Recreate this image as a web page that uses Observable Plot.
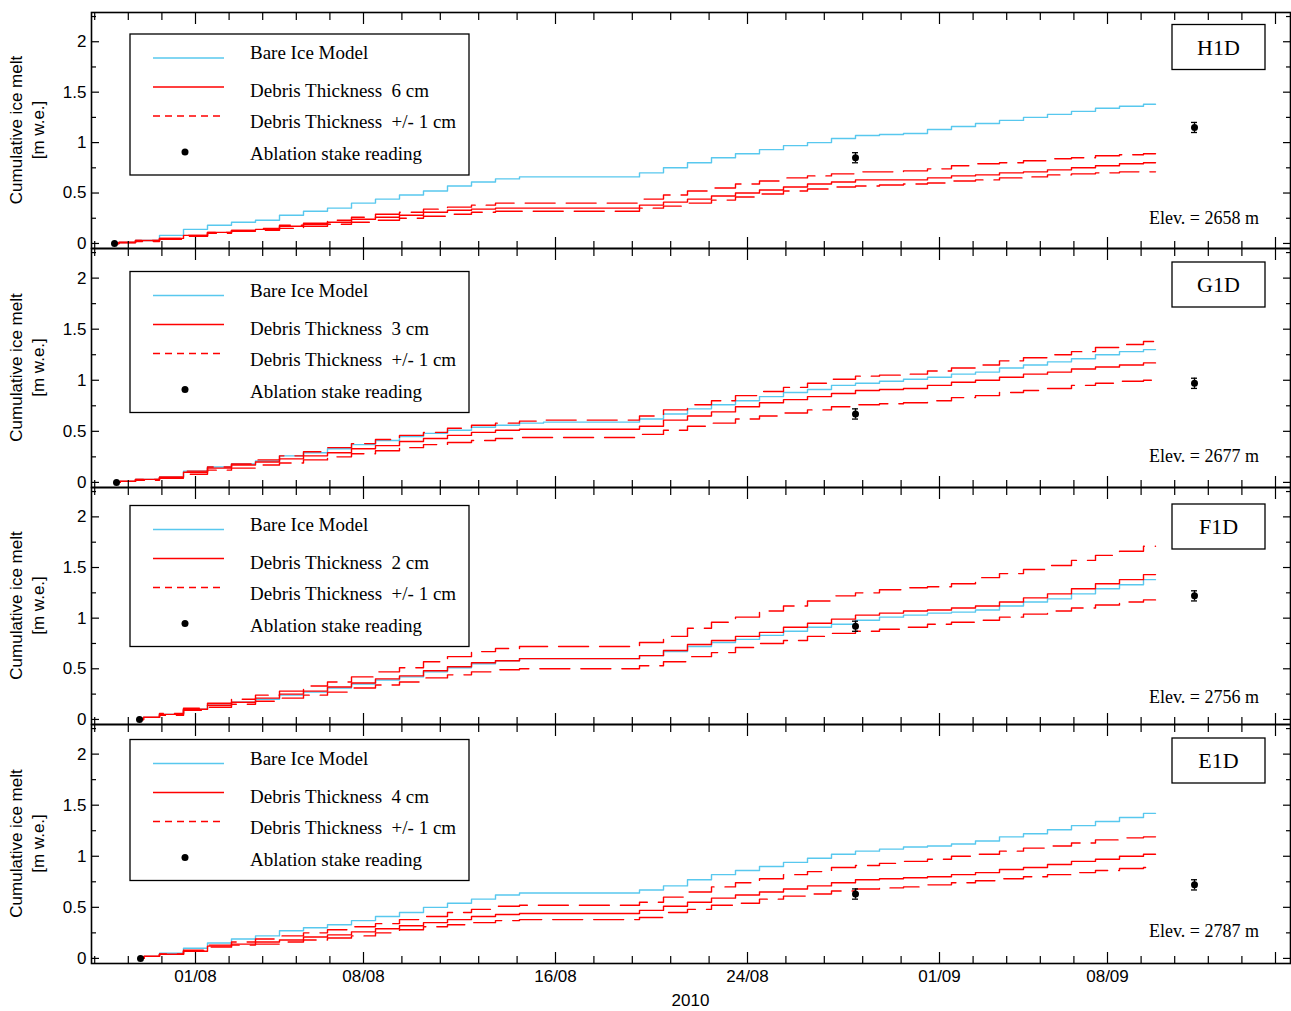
<!DOCTYPE html>
<html><head><meta charset="utf-8">
<script src="https://cdn.jsdelivr.net/npm/d3@7"></script>
<script src="https://cdn.jsdelivr.net/npm/@observablehq/plot@0.6"></script>
<style>
body{margin:0;background:#fff;}
#chart{position:relative;width:1291px;height:1011px;overflow:hidden;}
#chart svg{position:absolute;left:0;overflow:visible;}
</style></head><body><div id="chart"></div>
<script>
// ---------- DATA ----------
const days = ["2010-07-29","2010-07-30","2010-07-31",
"2010-08-01","2010-08-02","2010-08-03","2010-08-04","2010-08-05","2010-08-06","2010-08-07","2010-08-08","2010-08-09","2010-08-10",
"2010-08-11","2010-08-12","2010-08-13","2010-08-14","2010-08-15","2010-08-16","2010-08-17","2010-08-18","2010-08-19","2010-08-20",
"2010-08-21","2010-08-22","2010-08-23","2010-08-24","2010-08-25","2010-08-26","2010-08-27","2010-08-28","2010-08-29","2010-08-30","2010-08-31",
"2010-09-01","2010-09-02","2010-09-03","2010-09-04","2010-09-05","2010-09-06","2010-09-07","2010-09-08","2010-09-09","2010-09-10"];

const stations = ["H1D","G1D","F1D","E1D"];
const elevations = [2658, 2677, 2756, 2787];
const debrisCm = [6, 3, 2, 4];
const modelStart = ["2010-07-28T15:00Z","2010-07-28T17:00Z","2010-07-29T16:00Z","2010-07-29T17:00Z"];

// H1D
const bareH1D = [0.01,0.03,0.08, 0.14,0.18,0.21,0.23,0.28,0.32,0.35,0.40,0.44,0.48,0.52,0.57,0.61,0.64,0.66,0.66,0.66,0.66,0.66,0.70,0.75,0.80,0.85,0.89,0.93,0.97,1.00,1.04,1.07,1.08,1.09, 1.13,1.16,1.19,1.22,1.25,1.28,1.31,1.34,1.36,1.38];
const debH1D  = [0.01,0.03,0.05, 0.08,0.11,0.13,0.14,0.17,0.19,0.21,0.24,0.26,0.28,0.31,0.33,0.34,0.35,0.35,0.35,0.35,0.35,0.35,0.38,0.41,0.44,0.47,0.50,0.53,0.56,0.59,0.61,0.63,0.63,0.63, 0.65,0.67,0.68,0.70,0.71,0.73,0.75,0.77,0.79,0.80];
const debHiH1D= [0.01,0.03,0.05, 0.08,0.11,0.13,0.15,0.18,0.20,0.23,0.26,0.29,0.31,0.34,0.36,0.38,0.40,0.40,0.40,0.40,0.40,0.40,0.44,0.48,0.52,0.55,0.59,0.62,0.65,0.67,0.69,0.71,0.71,0.72, 0.74,0.77,0.79,0.80,0.82,0.84,0.85,0.87,0.88,0.89];
const debLoH1D= [0.01,0.02,0.04, 0.07,0.10,0.12,0.13,0.15,0.17,0.19,0.21,0.23,0.25,0.27,0.29,0.31,0.32,0.32,0.32,0.32,0.32,0.32,0.35,0.37,0.40,0.43,0.46,0.49,0.52,0.54,0.56,0.57,0.58,0.59, 0.60,0.62,0.63,0.65,0.66,0.68,0.69,0.70,0.71,0.71];
// G1D
const bareG1D = [0.01,0.03,0.05, 0.11,0.15,0.18,0.21,0.26,0.29,0.33,0.37,0.41,0.45,0.48,0.51,0.54,0.56,0.58,0.59,0.59,0.59,0.59,0.62,0.67,0.72,0.76,0.80,0.84,0.88,0.91,0.95,0.97,0.99,1.01, 1.03,1.06,1.08,1.12,1.15,1.18,1.21,1.25,1.28,1.30];
const debG1D  = [0.01,0.03,0.05, 0.10,0.14,0.17,0.20,0.23,0.26,0.29,0.33,0.36,0.40,0.43,0.46,0.49,0.51,0.52,0.52,0.52,0.52,0.52,0.55,0.61,0.65,0.69,0.74,0.78,0.81,0.84,0.87,0.90,0.91,0.92, 0.95,0.98,1.00,1.03,1.06,1.08,1.11,1.13,1.15,1.17];
const debHiG1D= [0.01,0.03,0.05, 0.11,0.15,0.18,0.22,0.26,0.30,0.34,0.38,0.42,0.46,0.49,0.53,0.56,0.58,0.60,0.61,0.61,0.61,0.61,0.65,0.71,0.76,0.80,0.85,0.89,0.93,0.97,1.01,1.04,1.05,1.06, 1.09,1.12,1.15,1.19,1.22,1.25,1.28,1.32,1.35,1.38];
const debLoG1D= [0.01,0.02,0.04, 0.08,0.12,0.14,0.17,0.19,0.22,0.25,0.28,0.31,0.34,0.37,0.39,0.41,0.43,0.44,0.44,0.44,0.44,0.44,0.47,0.51,0.55,0.58,0.62,0.65,0.68,0.71,0.74,0.76,0.77,0.78, 0.80,0.83,0.85,0.88,0.90,0.92,0.95,0.97,0.99,1.00];
// F1D
const bareF1D = [null,0.02,0.05, 0.10,0.14,0.17,0.20,0.24,0.27,0.31,0.35,0.39,0.42,0.47,0.51,0.55,0.58,0.60,0.60,0.60,0.60,0.60,0.63,0.67,0.72,0.76,0.79,0.83,0.87,0.91,0.94,0.98,1.01,1.03, 1.05,1.06,1.08,1.12,1.16,1.19,1.24,1.29,1.33,1.38];
const debF1D  = [null,0.02,0.05, 0.10,0.14,0.17,0.21,0.25,0.28,0.32,0.36,0.40,0.43,0.48,0.52,0.56,0.58,0.60,0.60,0.60,0.60,0.60,0.63,0.68,0.74,0.78,0.82,0.86,0.91,0.95,0.99,1.03,1.05,1.07, 1.08,1.10,1.12,1.16,1.20,1.24,1.29,1.34,1.38,1.43];
const debHiF1D= [null,0.02,0.06, 0.11,0.16,0.20,0.24,0.28,0.33,0.37,0.42,0.47,0.51,0.57,0.62,0.67,0.70,0.72,0.72,0.72,0.72,0.72,0.76,0.82,0.90,0.96,1.01,1.07,1.12,1.17,1.22,1.25,1.28,1.30, 1.31,1.34,1.40,1.44,1.48,1.52,1.57,1.62,1.66,1.71];
const debLoF1D= [null,0.02,0.04, 0.09,0.12,0.15,0.18,0.21,0.24,0.27,0.31,0.34,0.37,0.41,0.44,0.47,0.49,0.50,0.50,0.50,0.50,0.50,0.53,0.57,0.62,0.66,0.71,0.75,0.78,0.82,0.85,0.87,0.89,0.91, 0.94,0.96,0.98,1.01,1.04,1.07,1.10,1.13,1.16,1.18];
// E1D
const bareE1D = [null,0.02,0.05, 0.10,0.15,0.19,0.22,0.27,0.30,0.33,0.37,0.41,0.45,0.50,0.54,0.58,0.62,0.64,0.64,0.64,0.64,0.64,0.67,0.71,0.77,0.82,0.86,0.90,0.94,0.98,1.02,1.05,1.07,1.09, 1.10,1.12,1.15,1.19,1.22,1.26,1.30,1.34,1.38,1.42];
const debE1D  = [null,0.02,0.04, 0.07,0.12,0.14,0.16,0.18,0.21,0.23,0.26,0.29,0.32,0.35,0.38,0.41,0.43,0.44,0.44,0.44,0.44,0.44,0.47,0.51,0.55,0.59,0.62,0.65,0.68,0.71,0.74,0.77,0.78,0.79, 0.80,0.82,0.84,0.87,0.89,0.92,0.95,0.97,1.00,1.02];
const debHiE1D= [null,0.02,0.04, 0.08,0.13,0.16,0.19,0.22,0.25,0.28,0.31,0.34,0.38,0.41,0.45,0.48,0.51,0.52,0.52,0.52,0.52,0.52,0.55,0.60,0.65,0.70,0.74,0.78,0.82,0.85,0.89,0.91,0.93,0.95, 0.97,1.00,1.02,1.05,1.08,1.10,1.13,1.16,1.18,1.19];
const debLoE1D= [null,0.02,0.04, 0.07,0.11,0.13,0.14,0.16,0.18,0.20,0.22,0.25,0.28,0.31,0.33,0.35,0.37,0.38,0.38,0.38,0.38,0.38,0.40,0.45,0.48,0.52,0.54,0.58,0.61,0.63,0.66,0.68,0.69,0.70, 0.72,0.74,0.76,0.78,0.80,0.82,0.84,0.86,0.88,0.89];

// ablation stake readings (first reading = model start, 0)
const stakeDates = ["2010-08-28T12:00Z","2010-09-11T15:00Z"];
const stakeH1D = [0.85, 1.15], errH1D = [0.05, 0.05];
const stakeG1D = [0.67, 0.97], errG1D = [0.05, 0.05];
const stakeF1D = [0.92, 1.22], errF1D = [0.05, 0.05];
const stakeE1D = [0.63, 0.72], errE1D = [0.05, 0.05];

// axis ticks
const majorX = ["2010-08-01","2010-08-08","2010-08-16","2010-08-24","2010-09-01","2010-09-08","2010-09-15"];
const xTickLabels = ["01/08","08/08","16/08","24/08","01/09","08/09",""];
const minorX = ["2010-07-27T19:12Z","2010-07-29T04:48Z","2010-07-30T14:24Z",
  "2010-08-02T09:36Z","2010-08-03T19:12Z","2010-08-05T04:48Z","2010-08-06T14:24Z",
  "2010-08-09T14:24Z","2010-08-11T04:48Z","2010-08-12T19:12Z","2010-08-14T09:36Z",
  "2010-08-17T14:24Z","2010-08-19T04:48Z","2010-08-20T19:12Z","2010-08-22T09:36Z",
  "2010-08-25T14:24Z","2010-08-27T04:48Z","2010-08-28T19:12Z","2010-08-30T09:36Z",
  "2010-09-02T09:36Z","2010-09-03T19:12Z","2010-09-05T04:48Z","2010-09-06T14:24Z",
  "2010-09-09T09:36Z","2010-09-10T19:12Z","2010-09-12T04:48Z","2010-09-13T14:24Z"];
const majorY = [0, 0.5, 1, 1.5, 2];
const yTickLabels = ["0","0.5","1","1.5","2"];
const minorY = [0.25, 0.75, 1.25, 1.75, 2.25];

// ---------- BUILD ----------
const panels = [
  {bare: bareH1D, deb: debH1D, hi: debHiH1D, lo: debLoH1D, stake: stakeH1D, err: errH1D},
  {bare: bareG1D, deb: debG1D, hi: debHiG1D, lo: debLoG1D, stake: stakeG1D, err: errG1D},
  {bare: bareF1D, deb: debF1D, hi: debHiF1D, lo: debLoF1D, stake: stakeF1D, err: errF1D},
  {bare: bareE1D, deb: debE1D, hi: debHiE1D, lo: debLoE1D, stake: stakeE1D, err: errE1D}
];
const BLUE = "#58c8ee", RED = "#ff0000";
const W = 1291, ML = 91, MR = 1;
const panelTops = [12, 248, 487, 724];
const panelHeights = [236, 239, 237, 239];
const legendTop = [22, 23.5, 18.5, 15.5];
const labelBoxTop = [12.5, 14, 17, 14];
const elevBase = [212, 214, 216, 213];
const xDomain = [new Date("2010-07-27T16:00Z"), new Date("2010-09-15T15:00Z")];
const yDomain = [-0.05, 2.29];
const SERIF = "'Liberation Serif', 'Times New Roman', serif";
const SANS = "'Liberation Sans', Arial, sans-serif";

function toSeries(vals, start) {
  const pts = [{date: new Date(start), v: 0}];
  days.forEach((d, i) => { if (vals[i] != null) pts.push({date: new Date(d), v: vals[i]}); });
  return pts;
}

const chart = document.getElementById("chart");
const mX = majorX.map(d => new Date(d));
const mnX = minorX.map(d => new Date(d));

panels.forEach((p, i) => {
  const bottom = i === 3;
  const MB = bottom ? 48 : 0;
  const H = panelHeights[i] + MB;
  const stakes = [{date: new Date(modelStart[i]), v: 0, e: 0}]
    .concat(stakeDates.map((d, k) => ({date: new Date(d), v: p.stake[k], e: p.err[k]})));
  const errStakes = stakes.filter(s => s.e > 0);
  const capHalf = 3 * 3600e3;
  const tk = {fill: "none", label: null, strokeWidth: 1.2};
  const svg = Plot.plot({
    width: W, height: H,
    marginLeft: ML, marginRight: MR, marginTop: 0, marginBottom: MB,
    x: {type: "utc", domain: xDomain},
    y: {domain: yDomain},
    style: {fontFamily: SANS, fontSize: "17px", color: "black", background: "transparent", overflow: "visible"},
    marks: [
      Plot.line(toSeries(p.bare, modelStart[i]), {x: "date", y: "v", stroke: BLUE, strokeWidth: 1.4, curve: "step"}),
      Plot.line(toSeries(p.hi, modelStart[i]), {x: "date", y: "v", stroke: RED, strokeWidth: 1.4, curve: "step", strokeDasharray: "30,11"}),
      Plot.line(toSeries(p.lo, modelStart[i]), {x: "date", y: "v", stroke: RED, strokeWidth: 1.4, curve: "step", strokeDasharray: "30,11"}),
      Plot.line(toSeries(p.deb, modelStart[i]), {x: "date", y: "v", stroke: RED, strokeWidth: 1.4, curve: "step"}),
      Plot.ruleX(errStakes, {x: "date", y1: d => d.v - d.e, y2: d => d.v + d.e, stroke: "black", strokeWidth: 1.3}),
      Plot.ruleY(errStakes, {y: d => d.v + d.e, x1: d => new Date(+d.date - capHalf), x2: d => new Date(+d.date + capHalf), stroke: "black", strokeWidth: 1.3}),
      Plot.ruleY(errStakes, {y: d => d.v - d.e, x1: d => new Date(+d.date - capHalf), x2: d => new Date(+d.date + capHalf), stroke: "black", strokeWidth: 1.3}),
      Plot.dot(stakes, {x: "date", y: "v", r: 3.5, fill: "black"}),
      Plot.axisX({anchor: "bottom", ticks: mX, tickSize: -11, ...tk}),
      Plot.axisX({anchor: "bottom", ticks: mnX, tickSize: -7, ...tk}),
      Plot.axisX({anchor: "top", ticks: mX, tickSize: -11, ...tk}),
      Plot.axisX({anchor: "top", ticks: mnX, tickSize: -7, ...tk}),
      Plot.axisY({anchor: "left", ticks: majorY, tickSize: -8, ...tk}),
      Plot.axisY({anchor: "left", ticks: minorY, tickSize: -5, ...tk}),
      Plot.axisY({anchor: "right", ticks: majorY, tickSize: -8, ...tk}),
      Plot.axisY({anchor: "right", ticks: minorY, tickSize: -5, ...tk}),
      Plot.axisY({anchor: "left", ticks: majorY, tickSize: 0, tickPadding: 5, label: null, fontSize: 17,
        tickFormat: (d) => yTickLabels[majorY.indexOf(d)]}),
      bottom ? Plot.axisX({anchor: "bottom", ticks: mX.slice(0, 6), tickSize: 0, tickPadding: 6, label: null, fontSize: 17,
        tickFormat: (d, k) => xTickLabels[k]}) : null,
      Plot.frame({stroke: "black", strokeWidth: 1.6})
    ]
  });
  svg.style.top = panelTops[i] + "px";
  chart.appendChild(svg);

  const g = d3.select(svg).append("g").attr("text-anchor", "start");
  // y label
  const cy = panelHeights[i] / 2;
  [["Cumulative ice melt", 18], ["[m w.e.]", 40]].forEach(([t, x]) => {
    g.append("text").attr("transform", `translate(${x},${cy}) rotate(-90)`)
      .attr("text-anchor", "middle").attr("dominant-baseline", "middle")
      .attr("font-family", SANS).attr("font-size", 17).attr("fill", "black").text(t);
  });
  // legend
  const lt = legendTop[i];
  g.append("rect").attr("x", 130).attr("y", lt).attr("width", 339).attr("height", 141)
    .attr("fill", "white").attr("stroke", "black").attr("stroke-width", 1.3);
  const entries = [
    {text: "Bare Ice Model", yl: 24, yt: 25, kind: "blue"},
    {text: `Debris Thickness  ${debrisCm[i]} cm`, yl: 53, yt: 63, kind: "red"},
    {text: "Debris Thickness  +/- 1 cm", yl: 82, yt: 94, kind: "dash"},
    {text: "Ablation stake reading", yl: 118, yt: 126, kind: "dot"}
  ];
  entries.forEach(e => {
    if (e.kind === "dot") {
      g.append("circle").attr("cx", 185).attr("cy", lt + e.yl).attr("r", 3.5).attr("fill", "black");
    } else {
      g.append("line").attr("x1", 153).attr("x2", 224).attr("y1", lt + e.yl).attr("y2", lt + e.yl)
        .attr("stroke", e.kind === "blue" ? BLUE : RED).attr("stroke-width", 1.4)
        .attr("stroke-dasharray", e.kind === "dash" ? "7,5" : null);
    }
    g.append("text").attr("x", 250).attr("y", lt + e.yt).attr("text-anchor", "start")
      .attr("font-family", SERIF).attr("font-size", 19)
      .attr("fill", "black").style("white-space", "pre").attr("xml:space", "preserve").text(e.text);
  });
  // station box
  const bt = labelBoxTop[i];
  g.append("rect").attr("x", 1172).attr("y", bt).attr("width", 93).attr("height", 45)
    .attr("fill", "white").attr("stroke", "black").attr("stroke-width", 1.3);
  g.append("text").attr("x", 1218.5).attr("y", bt + 30).attr("text-anchor", "middle")
    .attr("font-family", SERIF).attr("font-size", 22).attr("fill", "black").text(stations[i]);
  // elevation
  g.append("text").attr("x", 1259).attr("y", elevBase[i]).attr("text-anchor", "end")
    .attr("font-family", SERIF).attr("font-size", 18).attr("fill", "black").text(`Elev. = ${elevations[i]} m`);
  if (bottom) {
    g.append("text").attr("x", (ML + W - MR) / 2).attr("y", 282).attr("text-anchor", "middle")
      .attr("font-family", SANS).attr("font-size", 17).attr("fill", "black").text("2010");
  }
});
</script></body></html>
